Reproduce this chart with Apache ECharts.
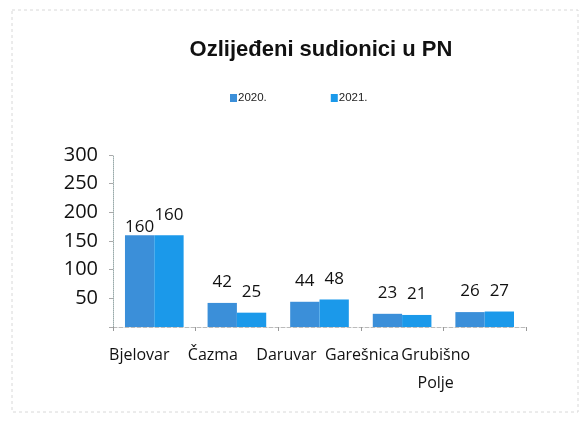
<!DOCTYPE html>
<html>
<head>
<meta charset="utf-8">
<script src="https://cdn.jsdelivr.net/npm/echarts@6/dist/echarts.min.js"></script>
<style>
  html, body { margin: 0; padding: 0; background: #fff; }
  #chart { width: 582px; height: 424px; }
</style>
</head>
<body>
<div id="chart"></div>
<script>
// podaci
const gradovi = ['Bjelovar', 'Čazma', 'Daruvar', 'Garešnica', 'Grubišno\nPolje'];
const god2020 = [160, 42, 44, 23, 26];
const god2021 = [160, 25, 48, 21, 27];
const yTicks = [0, 50, 100, 150, 200, 250, 300];

// pomak natpisa kategorija ulijevo (skenirani original)
const labelShift = [15, 24, 33, 40, 49];

const chart = echarts.init(document.getElementById('chart'), null, { renderer: 'canvas' });

const labelFont = { fontFamily: 'Open Sans', fontSize: 17, color: '#111' };

chart.setOption({
    animation: false,
    title: {
        text: 'Ozlijeđeni sudionici u PN',
        left: 316,
        textAlign: 'center',
        top: 34,
        textStyle: { fontFamily: 'Liberation Sans', fontWeight: 'bold', fontSize: 22, color: '#111' },
    },
    legend: {
        data: ['2020.', '2021.'],
        left: 225,
        top: 87,
        itemWidth: 7,
        itemHeight: 8,
        itemGap: 64,
        icon: 'rect',
        textStyle: { fontFamily: 'Liberation Sans', fontSize: 11.5, color: '#222', padding: [0, 0, 0, -4] },
    },
    graphic: [{
        type: 'rect',
        shape: { x: 12, y: 10, width: 566, height: 402 },
        style: { fill: 'none', stroke: '#d8d8d8', lineWidth: 1, lineDash: [3, 3] },
        silent: true,
    }],
    grid: { left: 113, right: 56, top: 155, bottom: 97 },
    xAxis: {
        type: 'category',
        data: gradovi.map((g, i) => ({ value: g, textStyle: { padding: [0, labelShift[i] * 2, 0, 0] } })),
        axisLine: { lineStyle: { color: '#bbb', type: 'dashed' } },
        axisTick: { show: true, length: 4, lineStyle: { color: '#999' } },
        axisLabel: {
            fontFamily: 'Open Sans', fontSize: 16, color: '#111', margin: 14, lineHeight: 28,
            interval: 0,
        },
    },
    yAxis: {
        type: 'value',
        min: yTicks[0],
        max: yTicks[yTicks.length - 1],
        interval: 50,
        axisLine: { show: true, lineStyle: { color: '#9aa', type: 'dotted' } },
        axisTick: { show: true, length: 4, lineStyle: { color: '#aaa' } },
        splitLine: { show: false },
        axisLabel: {
            fontFamily: 'Open Sans', fontSize: 20, color: '#111', margin: 15,
            formatter: v => (v === 0 ? '' : String(v)),
        },
    },
    series: [
        {
            name: '2020.',
            type: 'bar',
            data: god2020,
            itemStyle: { color: '#3b8fd9' },
            barGap: '0%',
            barCategoryGap: '29%',
            label: {
                show: true, position: 'top', distance: 12, ...labelFont,
                // prvi natpis crta se posebno, niže (kao u originalu)
                formatter: p => (p.dataIndex === 0 ? '' : String(p.value)),
            },
        },
        {
            name: '2021.',
            type: 'bar',
            data: god2021,
            itemStyle: { color: '#1b99ea' },
            label: { show: true, position: 'top', distance: 12, ...labelFont },
        },
    ],
});

// natpis "160" za Bjelovar 2020. sjedi na samom vrhu stupca
const lay = chart.getModel().getSeriesByIndex(0).getData().getItemLayout(0);
const barTop = Math.min(lay.y, lay.y + lay.height);
chart.setOption({
    graphic: [{}, {
        type: 'text',
        x: lay.x + lay.width / 2,
        y: barTop - 8,
        silent: true,
        style: {
            text: String(god2020[0]), fill: '#111', align: 'center', verticalAlign: 'middle',
            font: '17px "Open Sans"',
        },
    }],
});
</script>
</body>
</html>
